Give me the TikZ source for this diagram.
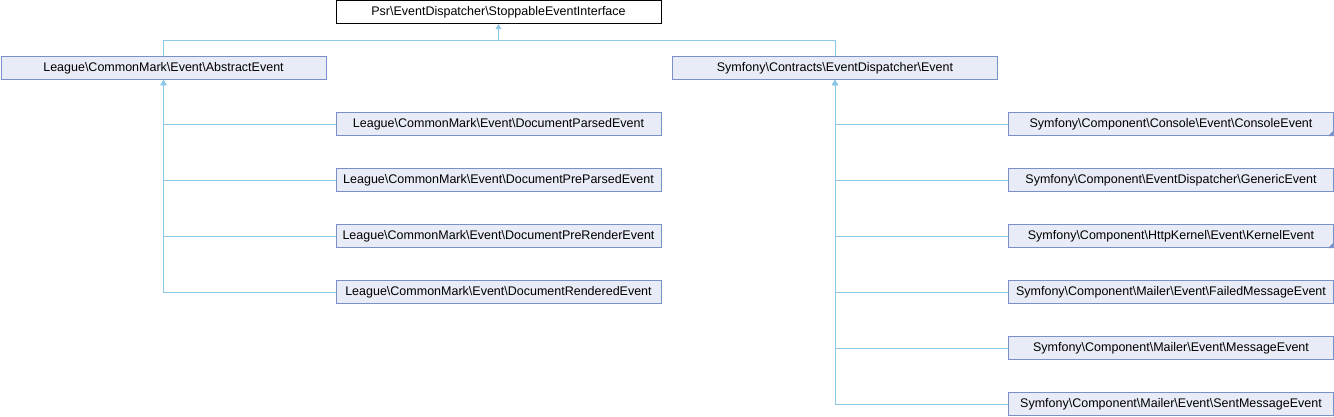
\documentclass[tikz,border=0pt]{standalone}
\usepackage{fontspec}
\setmainfont{Liberation Sans}
\usetikzlibrary{arrows.meta}
\definecolor{boxfill}{HTML}{E8ECF6}
\definecolor{boxdraw}{HTML}{7A90C8}
\definecolor{edgecol}{HTML}{8CC6E6}
\tikzset{
  cls/.style={draw=boxdraw, fill=boxfill, line width=0.9pt, minimum width=325pt, minimum height=23.5pt, inner sep=0pt, font=\fontsize{12.5}{14}\selectfont},
  topcls/.style={cls, draw=black, fill=white},
  edge/.style={draw=edgecol, line width=0.9pt},
  inh/.style={edge, -{Triangle[length=5pt,width=6pt,fill=edgecol]}},
  more/.style={fill=boxdraw, draw=none}
}
\begin{document}
\begin{tikzpicture}[x=1pt,y=-1pt]
\useasboundingbox (0,0) rectangle (1334,416);
\node[topcls] (top) at (498.5,12) {Psr\textbackslash EventDispatcher\textbackslash StoppableEventInterface};
\node[cls] (ae) at (163.5,68) {League\textbackslash CommonMark\textbackslash Event\textbackslash AbstractEvent};
\node[cls] (se) at (835,68) {Symfony\textbackslash Contracts\textbackslash EventDispatcher\textbackslash Event};
\node[cls] (l1) at (498.5,124) {League\textbackslash CommonMark\textbackslash Event\textbackslash DocumentParsedEvent};
\node[cls] (l2) at (498.5,180) {League\textbackslash CommonMark\textbackslash Event\textbackslash DocumentPreParsedEvent};
\node[cls] (l3) at (498.5,236) {League\textbackslash CommonMark\textbackslash Event\textbackslash DocumentPreRenderEvent};
\node[cls] (l4) at (498.5,292) {League\textbackslash CommonMark\textbackslash Event\textbackslash DocumentRenderedEvent};
\node[cls] (r1) at (1171,124) {Symfony\textbackslash Component\textbackslash Console\textbackslash Event\textbackslash ConsoleEvent};
\node[cls] (r2) at (1171,180) {Symfony\textbackslash Component\textbackslash EventDispatcher\textbackslash GenericEvent};
\node[cls] (r3) at (1171,236) {Symfony\textbackslash Component\textbackslash HttpKernel\textbackslash Event\textbackslash KernelEvent};
\node[cls] (r4) at (1171,292) {Symfony\textbackslash Component\textbackslash Mailer\textbackslash Event\textbackslash FailedMessageEvent};
\node[cls] (r5) at (1171,348) {Symfony\textbackslash Component\textbackslash Mailer\textbackslash Event\textbackslash MessageEvent};
\node[cls] (r6) at (1171,404) {Symfony\textbackslash Component\textbackslash Mailer\textbackslash Event\textbackslash SentMessageEvent};
% "more" markers
\fill[more] (r1.south east) -- ++(-6,0) -- ++(6,-6) -- cycle;
\fill[more] (r3.south east) -- ++(-6,0) -- ++(6,-6) -- cycle;
% inheritance to top
\coordinate (j) at (498.5,40);
\draw[edge] (ae.north) |- (j);
\draw[edge] (se.north) |- (j);
\draw[inh] (j) -- (top.south);
% left children
\foreach \c in {l1,l2,l3,l4} \draw[inh] (\c.west) -| (ae.south);
% right children
\foreach \c in {r1,r2,r3,r4,r5,r6} \draw[inh] (\c.west) -| (se.south);
\end{tikzpicture}
\end{document}
